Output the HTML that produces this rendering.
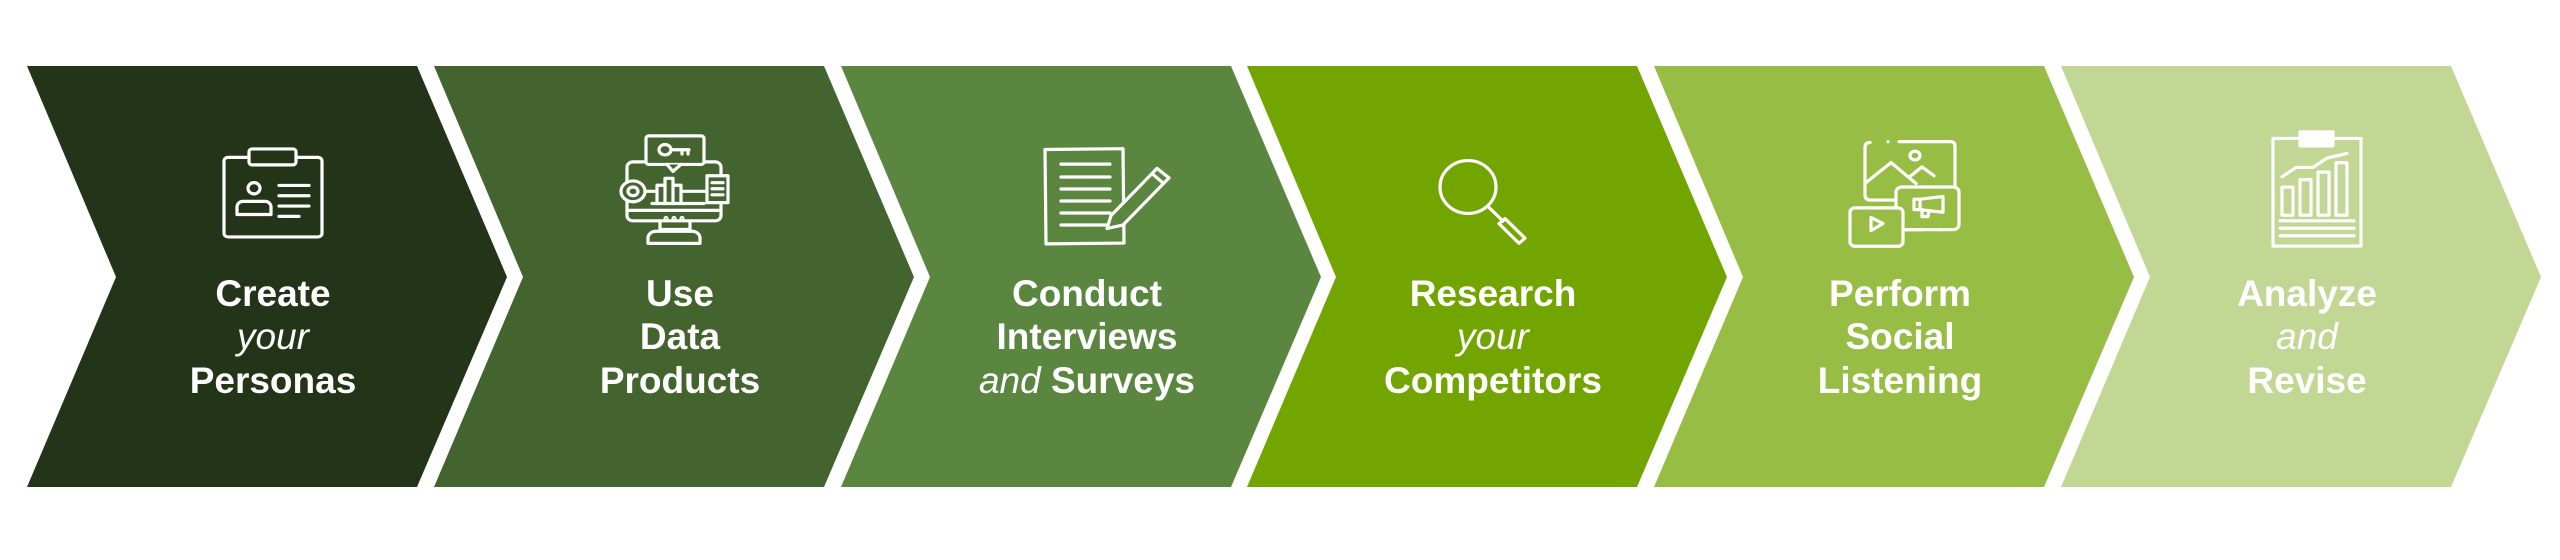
<!DOCTYPE html>
<html><head><meta charset="utf-8"><style>
html,body{margin:0;padding:0;background:#fff}
svg{display:block}
text{font-family:"Liberation Sans",sans-serif;font-size:37px;fill:#fff;text-anchor:middle}
.b{font-weight:bold}
.i{font-style:italic;font-weight:normal}
g.ic *{vector-effect:non-scaling-stroke}
</style></head><body>
<svg width="2560" height="560" viewBox="0 0 2560 560" xmlns="http://www.w3.org/2000/svg">
<g>
<polygon points="27,66 417,66 507,277 417,487 27,487 116,277" fill="#233419"/>
<polygon points="434,66 824,66 914,277 824,487 434,487 523,277" fill="#44642f"/>
<polygon points="841,66 1231,66 1321,277 1231,487 841,487 930,277" fill="#5b8640"/>
<polygon points="1247,66 1637,66 1727,277 1637,487 1247,487 1336,277" fill="#72a500"/>
<polygon points="1654,66 2044,66 2134,277 2044,487 1654,487 1743,277" fill="#98bd45"/>
<polygon points="2061,66 2451,66 2541,277 2451,487 2061,487 2150,277" fill="#c2d793"/>
</g>
<text x="273" y="306" class="b">Create</text>
<text x="273" y="349" class="i">your</text>
<text x="273" y="393" class="b">Personas</text>

<text x="680" y="306" class="b">Use</text>
<text x="680" y="349" class="b">Data</text>
<text x="680" y="393" class="b">Products</text>

<text x="1087" y="306" class="b">Conduct</text>
<text x="1087" y="349" class="b">Interviews</text>
<text x="1087" y="393"><tspan class="i">and</tspan><tspan class="b"> Surveys</tspan></text>

<text x="1493" y="306" class="b">Research</text>
<text x="1493" y="349" class="i">your</text>
<text x="1493" y="393" class="b">Competitors</text>

<text x="1900" y="306" class="b">Perform</text>
<text x="1900" y="349" class="b">Social</text>
<text x="1900" y="393" class="b">Listening</text>

<text x="2307" y="306" class="b">Analyze</text>
<text x="2307" y="349" class="i">and</text>
<text x="2307" y="393" class="b">Revise</text>

<g class="ic" fill="none" stroke="#fff" stroke-width="3.2" stroke-linecap="round" stroke-linejoin="round">
<g transform="matrix(1,0,0,0.936,0,2)">
<rect x="224" y="166" width="98" height="85" rx="4"/>
<rect x="249" y="157" width="47" height="17" rx="3" fill="#233419"/>
<circle cx="254" cy="199" r="6"/>
<path d="M237,227 v-8 a6,6 0 0 1 6,-6 h22 a6,6 0 0 1 6,6 v8 z"/>
<path d="M279,196 h30 M279,207 h30 M279,218 h30 M279,229 h20"/>
</g>
<g transform="matrix(1,0,0,0.867,0,16.2)">
<rect x="627" y="168" width="94" height="68" rx="6"/>
<path d="M627,224 h94"/>
<path d="M660,236 v10 h30 v-10 M648,262 v-6 a8,8 0 0 1 8,-8 h36 a8,8 0 0 1 8,8 v6 z"/>
<rect x="646" y="138" width="58" height="33" rx="3" fill="#44642f"/>
<path d="M667,171 l6,8 l8,-8" fill="#44642f"/>
<circle cx="665" cy="154" r="6"/>
<path d="M671,154 h18 M682,154 v5 M688,154 v5"/>
<circle cx="633" cy="202" r="12" fill="#44642f"/>
<circle cx="633" cy="202" r="5"/>
<path d="M645,202 h12 M657,215 v-20 h8 v20 M665,215 v-28 h8 v28 M673,215 v-20 h8 v20 M652,216 h52 M681,202 h26"/>
<rect x="707" y="184" width="21" height="31" fill="#44642f"/>
<path d="M712,192 h11 M712,199 h11 M712,206 h11"/>
<circle cx="666" cy="233" r="1" stroke-width="3"/><circle cx="674" cy="233" r="1" stroke-width="3"/><circle cx="682" cy="233" r="1" stroke-width="3"/>
</g>
<g transform="matrix(1,0,0,0.858,0,17.4)">
<path d="M1045,154 l78,-1 l1,110 l-78,1 z"/>
<path d="M1061,171 h49 M1061,186 h49 M1061,200 h49 M1061,214 h49 M1061,228 h49 M1061,242 h45"/>
<path d="M1107,246 l4,-15 l46,-55 l12,11 l-46,55 z M1152,182 l10,10" fill="#5b8640"/>
</g>
<g transform="matrix(1,0,0,0.853,0,18.1)">
<ellipse cx="1468" cy="198" rx="28" ry="31"/>
<path d="M1489,222 l14,16"/>
<path d="M1499,241 l6,-6 l20,23 l-6,6 z"/>
</g>
<g transform="matrix(1,0,0,0.872,0,15.2)">
<path d="M1870,146 q-5,0 -5,6 v54 q0,6 6,6 h24 M1888,145 h0 M1899,145 h51 q5,0 5,5 v45"/>
<path d="M1866,192 l25,-23 l25,24 M1910,185 l12,-11 l12,10"/>
<circle cx="1915" cy="161" r="5"/>
<rect x="1896" y="197" width="63" height="49" rx="6" fill="#98bd45"/>
<rect x="1850" y="221" width="53" height="44" rx="5" fill="#98bd45"/>
<path d="M1871,232 v15 l12,-8 z"/>
<path d="M1903,246 h20 M1931,246 h0 M1940,246 h1"/>
<path d="M1914,211 h6 v12 h-6 z M1920,211 l23,-3 v18 l-23,-3 M1922,223 v8 h6 l1,-7"/>
</g>
<g transform="matrix(1,0,0,0.936,0,2.7)">
<rect x="2273" y="145" width="88" height="115"/>
<rect x="2300" y="138" width="33" height="15" fill="#fff"/>
<path d="M2282,186 l14,-10 h17 l14,-10 l20,-5"/>
<rect x="2282" y="197" width="11" height="30"/>
<rect x="2300" y="189" width="11" height="38"/>
<rect x="2318" y="181" width="11" height="46"/>
<rect x="2336" y="171" width="11" height="56"/>
<path d="M2280,233 h74 M2280,241 h74 M2280,249 h74"/>
</g>
</g>
</svg>
</body></html>
